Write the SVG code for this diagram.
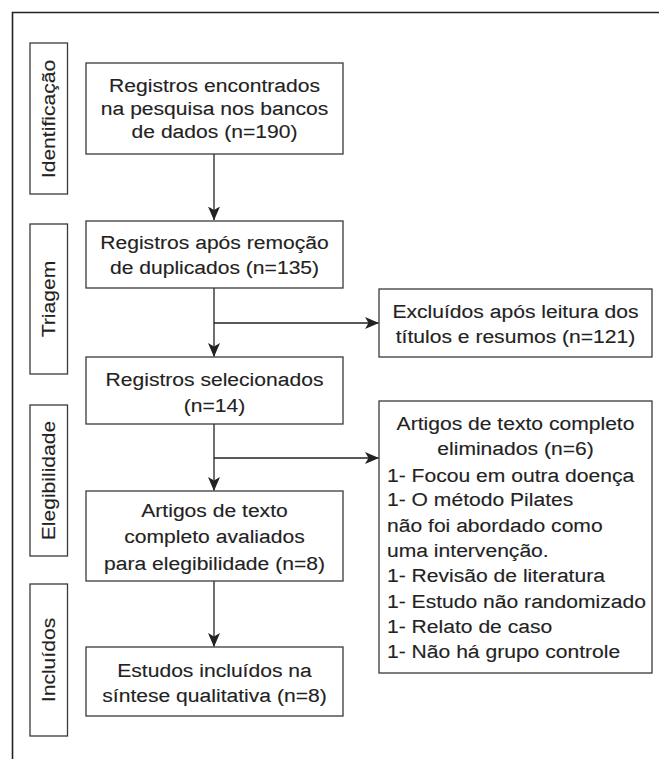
<svg xmlns="http://www.w3.org/2000/svg" width="659" height="759" viewBox="0 0 659 759">
  <style>
    .frame { fill: none; stroke: #222; stroke-width: 1.6; }
    .box { fill: #fff; stroke: #3a3a3a; stroke-width: 1.3; }
    .t { font-family: "Liberation Sans", Arial, sans-serif; font-size: 19px; fill: #222; stroke: #222; stroke-width: 0.12; }
    .c { text-anchor: middle; }
    .conn { fill: none; stroke: #222; stroke-width: 1.3; }
  </style>
  <defs>
    <marker id="ah" viewBox="0 0 14 12" refX="13.5" refY="6" markerWidth="14" markerHeight="12" markerUnits="userSpaceOnUse" orient="auto">
      <path d="M0,0 L14,6 L0,12 L3.5,6 Z" fill="#222"/>
    </marker>
  </defs>
  <rect width="659" height="759" fill="#fff"/>
  <path class="frame" d="M12.5,759 V12.5 H659"/>

  <g id="stage-identificacao">
    <rect class="box" x="30" y="43" width="37.5" height="151"/>
    <text class="t c" transform="translate(55,119) rotate(-90) scale(1.11,1)">Identificação</text>
  </g>
  <g id="stage-triagem">
    <rect class="box" x="30" y="224" width="37.5" height="150"/>
    <text class="t c" transform="translate(55,299) rotate(-90) scale(1.11,1)">Triagem</text>
  </g>
  <g id="stage-elegibilidade">
    <rect class="box" x="30" y="405" width="37.5" height="151"/>
    <text class="t c" transform="translate(55,480.5) rotate(-90) scale(1.11,1)">Elegibilidade</text>
  </g>
  <g id="stage-incluidos">
    <rect class="box" x="30" y="584" width="37.5" height="152"/>
    <text class="t c" transform="translate(55,660) rotate(-90) scale(1.11,1)">Incluídos</text>
  </g>

  <g id="connectors">
    <line class="conn" x1="214" y1="154" x2="214" y2="220" marker-end="url(#ah)"/>
    <line class="conn" x1="214" y1="288" x2="214" y2="356.5" marker-end="url(#ah)"/>
    <line class="conn" x1="214" y1="323" x2="378.5" y2="323" marker-end="url(#ah)"/>
    <line class="conn" x1="214" y1="424" x2="214" y2="490.5" marker-end="url(#ah)"/>
    <line class="conn" x1="214" y1="458" x2="378.5" y2="458" marker-end="url(#ah)"/>
    <line class="conn" x1="214" y1="581" x2="214" y2="646.5" marker-end="url(#ah)"/>
  </g>

  <g id="n1">
    <rect class="box" x="86" y="63" width="257" height="91"/>
    <text class="t c" transform="translate(214.5,91.7) scale(1.11,1)">Registros encontrados</text>
    <text class="t c" transform="translate(214.5,115) scale(1.11,1)">na pesquisa nos bancos</text>
    <text class="t c" transform="translate(214.5,138.3) scale(1.11,1)">de dados (n=190)</text>
  </g>
  <g id="n2">
    <rect class="box" x="86" y="221" width="257" height="67"/>
    <text class="t c" transform="translate(214.5,249.3) scale(1.11,1)">Registros após remoção</text>
    <text class="t c" transform="translate(214.5,274.3) scale(1.11,1)">de duplicados (n=135)</text>
  </g>
  <g id="n3">
    <rect class="box" x="86" y="357" width="257" height="67"/>
    <text class="t c" transform="translate(214.5,385.7) scale(1.11,1)">Registros selecionados</text>
    <text class="t c" transform="translate(214.5,411.5) scale(1.11,1)">(n=14)</text>
  </g>
  <g id="n4">
    <rect class="box" x="86" y="491" width="257" height="90"/>
    <text class="t c" transform="translate(214.5,516.7) scale(1.11,1)">Artigos de texto</text>
    <text class="t c" transform="translate(214.5,543.2) scale(1.11,1)">completo avaliados</text>
    <text class="t c" transform="translate(214.5,569.5) scale(1.11,1)">para elegibilidade (n=8)</text>
  </g>
  <g id="n5">
    <rect class="box" x="86" y="647" width="257" height="69"/>
    <text class="t c" transform="translate(214.5,676.7) scale(1.11,1)">Estudos incluídos na</text>
    <text class="t c" transform="translate(214.5,701.7) scale(1.11,1)">síntese qualitativa (n=8)</text>
  </g>
  <g id="excl1">
    <rect class="box" x="379" y="289" width="273" height="68"/>
    <text class="t c" transform="translate(515.5,318.3) scale(1.11,1)">Excluídos após leitura dos</text>
    <text class="t c" transform="translate(515.5,343.3) scale(1.11,1)">títulos e resumos (n=121)</text>
  </g>
  <g id="excl2">
    <rect class="box" x="379" y="401" width="273" height="272"/>
    <text class="t c" transform="translate(515.5,430) scale(1.11,1)">Artigos de texto completo</text>
    <text class="t c" transform="translate(515.5,454.5) scale(1.11,1)">eliminados (n=6)</text>
    <text class="t" transform="translate(387,481.5) scale(1.11,1)">1- Focou em outra doença</text>
    <text class="t" transform="translate(387,506.3) scale(1.11,1)">1- O método Pilates</text>
    <text class="t" transform="translate(387,531.7) scale(1.11,1)">não foi abordado como</text>
    <text class="t" transform="translate(387,557) scale(1.11,1)">uma intervenção.</text>
    <text class="t" transform="translate(387,582.3) scale(1.11,1)">1- Revisão de literatura</text>
    <text class="t" transform="translate(387,607.8) scale(1.11,1)">1- Estudo não randomizado</text>
    <text class="t" transform="translate(387,633) scale(1.11,1)">1- Relato de caso</text>
    <text class="t" transform="translate(387,658.3) scale(1.11,1)">1- Não há grupo controle</text>
  </g>
</svg>
